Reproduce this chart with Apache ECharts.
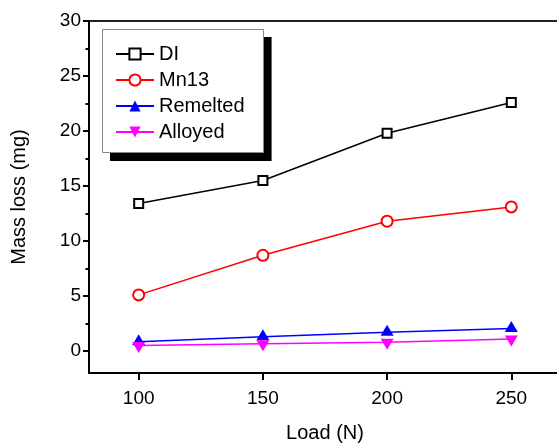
<!DOCTYPE html>
<html>
<head>
<meta charset="utf-8">
<script src="https://cdn.jsdelivr.net/npm/echarts@6/dist/echarts.min.js"></script>
<style>
  html, body { margin: 0; padding: 0; background: #fff; overflow: hidden; }
  #chart { width: 561px; height: 444px; }
</style>
</head>
<body>
<div id="chart"></div>
<script>
var loads = [100, 150, 200, 250];
var di = [13.4, 15.5, 19.8, 22.6];
var mn13 = [5.1, 8.7, 11.8, 13.1];
var remelted = [0.85, 1.3, 1.7, 2.05];
var alloyed = [0.5, 0.65, 0.8, 1.1];
var xTicks = [100, 150, 200, 250];
var yTicks = [0, 5, 10, 15, 20, 25, 30];
var yMinorTicks = [2.5, 7.5, 12.5, 17.5, 22.5, 27.5];

function pairs(ys) {
  return loads.map(function (x, i) { return [x, ys[i]]; });
}

var font = 'Liberation Sans, Arial, sans-serif';
var myChart = echarts.init(document.getElementById('chart'));

var option = {
  backgroundColor: '#fff',
  animation: false,
  textStyle: { fontFamily: font, color: '#000' },
  grid: {
    left: 89, top: 21, right: 0, bottom: 71,
    outerBoundsMode: 'none',
    containLabel: false,
    show: true, borderColor: '#222', borderWidth: 2, backgroundColor: 'transparent'
  },
  legend: {
    orient: 'vertical',
    left: 102, top: 29,
    padding: [15, 19, 11, 13],
    itemWidth: 38, itemHeight: 14, itemGap: 6,
    backgroundColor: '#fff',
    borderWidth: 0,
    shadowColor: '#000', shadowBlur: 0, shadowOffsetX: 8, shadowOffsetY: 8,
    textStyle: { fontSize: 20, fontFamily: font, color: '#000' },
    data: ['DI', 'Mn13', 'Remelted', 'Alloyed']
  },
  // thin grey outline of the legend box (the legend itself carries the shadow)
  graphic: [{
    type: 'rect',
    shape: { x: 102.5, y: 29.5, width: 161, height: 123 },
    style: { fill: null, stroke: '#888', lineWidth: 1 },
    z: 100
  }],
  xAxis: {
    type: 'value',
    min: 80, max: 270,
    name: 'Load (N)',
    nameLocation: 'middle',
    nameGap: 50,
    nameTextStyle: { fontSize: 20, color: '#000' },
    splitLine: { show: false },
    axisLine: { onZero: false, lineStyle: { color: '#000', width: 2 } },
    axisTick: { customValues: xTicks, length: 7, lineStyle: { color: '#000', width: 2 } },
    axisLabel: { customValues: xTicks, fontSize: 19, color: '#000', margin: 16 }
  },
  yAxis: [
    {
      type: 'value',
      min: -2, max: 30,
      name: 'Mass loss (mg)',
      nameLocation: 'middle',
      nameGap: 60,
      nameTextStyle: { fontSize: 20, color: '#000' },
      splitLine: { show: false },
      axisLine: { onZero: false, lineStyle: { color: '#000', width: 2 } },
      axisTick: { customValues: yTicks, length: 6, lineStyle: { color: '#000', width: 2 } },
      axisLabel: { customValues: yTicks, fontSize: 19, color: '#000', margin: 8 }
    },
    {
      type: 'value',
      min: -2, max: 30,
      position: 'left',
      splitLine: { show: false },
      axisLine: { show: false, onZero: false },
      axisTick: { customValues: yMinorTicks, length: 3.5, lineStyle: { color: '#000', width: 2 } },
      axisLabel: { show: false }
    }
  ],
  series: [
    {
      name: 'DI', type: 'line', data: pairs(di),
      symbol: 'rect', symbolSize: 9,
      lineStyle: { color: '#000', width: 1.5 },
      itemStyle: { color: '#fff', borderColor: '#000', borderWidth: 2 },
      z: 4
    },
    {
      name: 'Mn13', type: 'line', data: pairs(mn13),
      symbol: 'circle', symbolSize: 11,
      lineStyle: { color: '#ff0000', width: 1.5 },
      itemStyle: { color: '#fff', borderColor: '#ff0000', borderWidth: 2 },
      z: 4
    },
    {
      name: 'Remelted', type: 'line', data: pairs(remelted),
      symbol: 'triangle', symbolSize: [13, 11], symbolOffset: [0, -2],
      lineStyle: { color: '#0000ff', width: 1.5 },
      itemStyle: { color: '#0000ff' },
      z: 3
    },
    {
      name: 'Alloyed', type: 'line', data: pairs(alloyed),
      symbol: 'triangle', symbolSize: [13, 11], symbolRotate: 180, symbolOffset: [0, 2],
      lineStyle: { color: '#ff00ff', width: 1.5 },
      itemStyle: { color: '#ff00ff' },
      z: 4
    }
  ]
};

myChart.setOption(option);
</script>
</body>
</html>
